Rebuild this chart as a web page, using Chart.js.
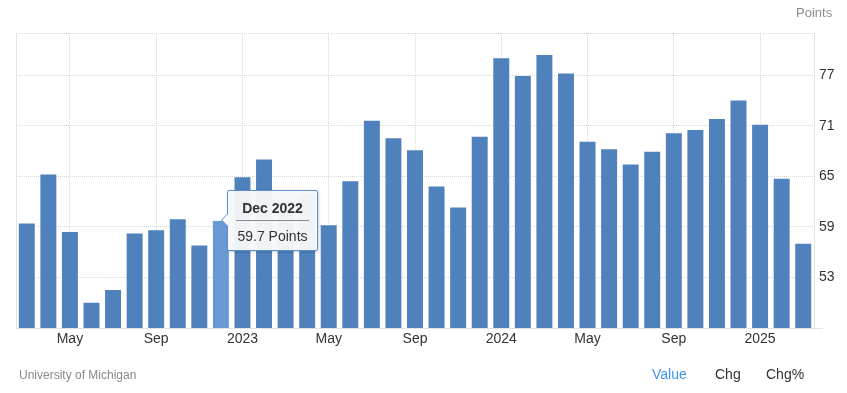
<!DOCTYPE html>
<html>
<head>
<meta charset="utf-8">
<script src="https://cdn.jsdelivr.net/npm/chart.js@4.4.1/dist/chart.umd.min.js"></script>
<style>
  html, body { margin: 0; padding: 0; background: #ffffff; }
  body { width: 847px; height: 393px; position: relative; overflow: hidden; font-family: "Liberation Sans", Arial, sans-serif; }
  #wrap { position: absolute; left: 0; top: 0; width: 847px; height: 393px; }
  .txt { position: absolute; white-space: nowrap; line-height: 1; }
  #unit { left: 796px; top: 6px; font-size: 13px; color: #8a8a8a; }
  #source { left: 19px; top: 369px; font-size: 12px; color: #8a8a8a; }
  #tabValue { left: 652px; top: 367px; font-size: 14px; color: #3d94ee; }
  #tabChg { left: 715px; top: 367px; font-size: 14px; color: #333333; }
  #tabChgP { left: 766px; top: 367px; font-size: 14px; color: #333333; }
  #tip { position: absolute; width: 89px; height: 59px; background: rgba(246,247,248,0.97);
         border: 1px solid #5b8fd0; border-radius: 2px; box-shadow: 1px 1px 3px rgba(0,0,0,0.18);
         font-size: 14px; color: #333; text-align: center; }
  #tip .t { font-weight: bold; margin: 9px 8px 0 8px; padding-bottom: 4px; border-bottom: 1px solid #8a8a8a; }
  #tip .b { margin-top: 7px; }
  #tip .c1, #tip .c2 { position: absolute; width: 0; height: 0; border-style: solid; }
  #tip .c1 { left: -7px; top: 22px; border-width: 7px 7px 7px 0; border-color: transparent #5b8fd0 transparent transparent; }
  #tip .c2 { left: -6px; top: 23px; border-width: 6px 6px 6px 0; border-color: transparent rgba(246,247,248,1) transparent transparent; }
</style>
</head>
<body>
<div id="wrap"><canvas id="c" width="847" height="393"></canvas></div>
<div class="txt" id="unit">Points</div>
<div class="txt" id="source">University of Michigan</div>
<div class="txt" id="tabValue">Value</div>
<div class="txt" id="tabChg">Chg</div>
<div class="txt" id="tabChgP">Chg%</div>
<div id="tip"><div class="c1"></div><div class="c2"></div><div class="t" id="tipTitle"></div><div class="b" id="tipBody"></div></div>
<script>
const categories = [
  'Mar 2022','Apr 2022','May 2022','Jun 2022','Jul 2022','Aug 2022','Sep 2022','Oct 2022','Nov 2022','Dec 2022',
  'Jan 2023','Feb 2023','Mar 2023','Apr 2023','May 2023','Jun 2023','Jul 2023','Aug 2023','Sep 2023','Oct 2023','Nov 2023','Dec 2023',
  'Jan 2024','Feb 2024','Mar 2024','Apr 2024','May 2024','Jun 2024','Jul 2024','Aug 2024','Sep 2024','Oct 2024','Nov 2024','Dec 2024',
  'Jan 2025','Feb 2025','Mar 2025'
];
const values = [
  59.4, 65.2, 58.4, 50.0, 51.5, 58.2, 58.6, 59.9, 56.8, 59.7,
  64.9, 67.0, 62.0, 63.0, 59.2, 64.4, 71.6, 69.5, 68.1, 63.8, 61.3, 69.7,
  79.0, 76.9, 79.4, 77.2, 69.1, 68.2, 66.4, 67.9, 70.1, 70.5, 71.8, 74.0,
  71.1, 64.7, 57.0
];
const yTicks = [53, 59, 65, 71, 77];
const yMin = 47;
const yMax = 82;
const highlightIndex = 9;
const unitLabel = 'Points';

const BAR = '#4f81bd';
const BAR_HI = '#6699d6';
const GRID = '#d6d6d6';
const AXIS = '#e3e3e3';

function xTickLabel(i) {
  const [m, y] = categories[i].split(' ');
  if (m === 'Jan') return y;
  if (m === 'May' || m === 'Sep') return m;
  return '';
}

const frame = {
  id: 'frame',
  beforeDatasetsDraw(chart) {
    const { ctx, chartArea: a } = chart;
    ctx.save();
    ctx.strokeStyle = AXIS;
    ctx.lineWidth = 1;
    ctx.setLineDash([]);
    ctx.beginPath();
    ctx.moveTo(a.left + 0.5, a.top);
    ctx.lineTo(a.left + 0.5, a.bottom);
    ctx.moveTo(a.right + 0.5, a.top);
    ctx.lineTo(a.right + 0.5, a.bottom + 1);
    ctx.moveTo(a.left, a.bottom + 0.5);
    ctx.lineTo(a.right + 9, a.bottom + 0.5);
    ctx.stroke();
    ctx.restore();
  }
};

const chart = new Chart(document.getElementById('c'), {
  type: 'bar',
  data: {
    labels: categories,
    datasets: [{
      data: values,
      backgroundColor: (ctx) => ctx.dataIndex === highlightIndex ? BAR_HI : BAR,
      borderWidth: 0,
      barPercentage: 0.74,
      categoryPercentage: 1.0
    }]
  },
  options: {
    responsive: false,
    animation: false,
    events: [],
    layout: { padding: { left: 16, top: 33, right: 0, bottom: 0 } },
    plugins: { legend: { display: false }, tooltip: { enabled: false } },
    scales: {
      x: {
        offset: true,
        afterFit(scale) { scale.height = 65; },
        grid: {
          offset: false,
          drawTicks: false,
          color: (ctx) => (ctx.index !== undefined && xTickLabel(ctx.index) !== '') ? GRID : 'rgba(0,0,0,0)',
          lineWidth: 1
        },
        border: { display: false, dash: [1, 1] },
        ticks: {
          autoSkip: false,
          maxRotation: 0,
          padding: 3,
          color: '#333333',
          font: { family: '"Liberation Sans", Arial, sans-serif', size: 14 },
          callback: (v, i) => xTickLabel(i)
        }
      },
      y: {
        position: 'right',
        min: yMin,
        max: yMax,
        afterFit(scale) { scale.width = 33; },
        afterBuildTicks(scale) {
          scale.ticks = [yMin, ...yTicks, yMax].map(v => ({ value: v }));
        },
        grid: {
          drawTicks: false,
          color: (ctx) => (ctx.tick && ctx.tick.value === yMin) ? 'rgba(0,0,0,0)' : GRID,
          lineWidth: 1
        },
        border: { display: false, dash: [1, 1] },
        ticks: {
          padding: 5,
          color: '#333333',
          font: { family: '"Liberation Sans", Arial, sans-serif', size: 14 },
          callback: (v) => yTicks.includes(v) ? String(v) : ''
        }
      }
    }
  },
  plugins: [frame]
});

// tooltip positioned from the library's bar element
const bar = chart.getDatasetMeta(0).data[highlightIndex];
const tip = document.getElementById('tip');
document.getElementById('tipTitle').textContent = categories[highlightIndex];
document.getElementById('tipBody').textContent = values[highlightIndex] + ' ' + unitLabel;
tip.style.left = Math.round(bar.x + 6) + 'px';
tip.style.top = Math.round(bar.y - 31) + 'px';
</script>
</body>
</html>
